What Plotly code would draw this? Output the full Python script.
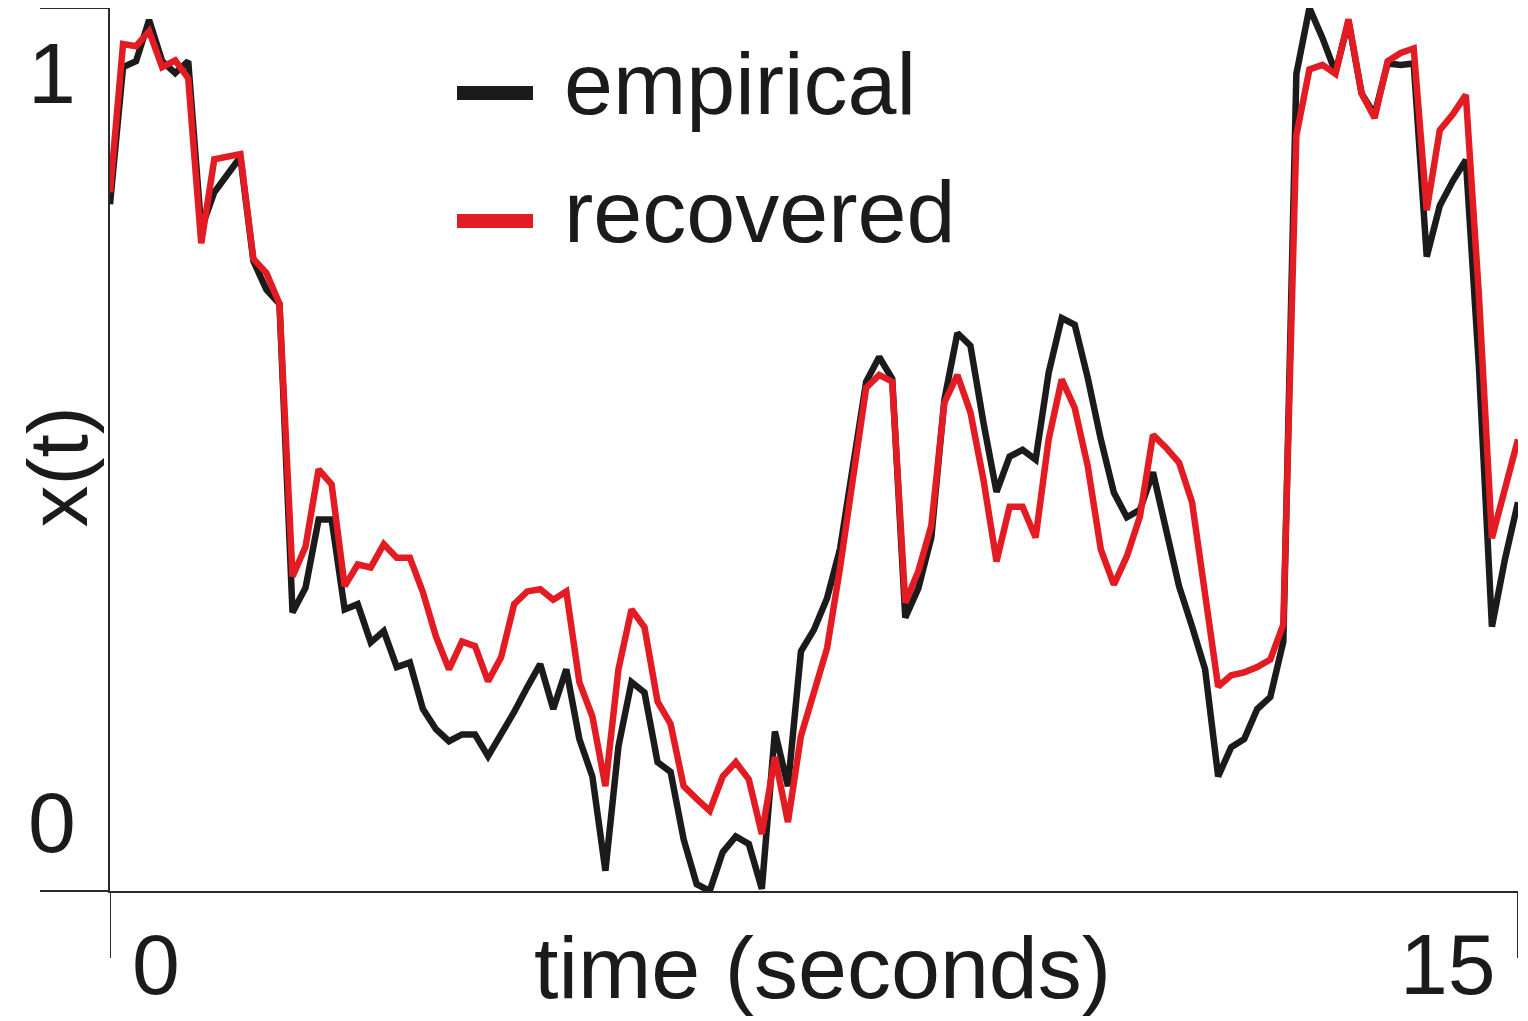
import plotly.graph_objects as go

duration = 15.0

empirical = [
    0.825, 1.008, 1.016, 1.071, 1.016, 1.000, 1.016, 0.792, 0.841, 0.864,
    0.888, 0.749, 0.711, 0.692, 0.280, 0.313, 0.404, 0.404, 0.284, 0.291,
    0.240, 0.255, 0.207, 0.213, 0.151, 0.124, 0.108, 0.117, 0.117, 0.088,
    0.117, 0.147, 0.180, 0.211, 0.151, 0.204, 0.111, 0.061, -0.065, 0.101,
    0.187, 0.173, 0.080, 0.067, -0.023, -0.083, -0.092, -0.040, -0.019, -0.029,
    -0.089, 0.121, 0.048, 0.228, 0.257, 0.299, 0.365, 0.483, 0.588, 0.621,
    0.592, 0.273, 0.312, 0.380, 0.564, 0.653, 0.636, 0.533, 0.441, 0.488,
    0.497, 0.484, 0.600, 0.673, 0.664, 0.593, 0.511, 0.440, 0.407, 0.417,
    0.467, 0.391, 0.315, 0.261, 0.204, 0.061, 0.100, 0.111, 0.151, 0.167,
    0.241, 0.999, 1.087, 1.047, 1.001, 1.069, 0.973, 0.945, 1.013, 1.011,
    1.013, 0.755, 0.823, 0.856, 0.884, 0.609, 0.261, 0.351, 0.427,
]

recovered = [
    0.841, 1.039, 1.036, 1.056, 1.008, 1.017, 0.993, 0.773, 0.885, 0.889,
    0.892, 0.752, 0.733, 0.692, 0.328, 0.368, 0.471, 0.451, 0.315, 0.344,
    0.340, 0.371, 0.353, 0.353, 0.307, 0.248, 0.204, 0.241, 0.235, 0.188,
    0.220, 0.291, 0.308, 0.311, 0.297, 0.308, 0.187, 0.141, 0.048, 0.204,
    0.284, 0.260, 0.161, 0.131, 0.048, 0.031, 0.015, 0.061, 0.080, 0.057,
    -0.016, 0.087, 0.000, 0.115, 0.171, 0.232, 0.340, 0.468, 0.580, 0.597,
    0.588, 0.293, 0.335, 0.396, 0.560, 0.597, 0.547, 0.457, 0.348, 0.421,
    0.421, 0.380, 0.511, 0.591, 0.553, 0.475, 0.364, 0.317, 0.355, 0.408,
    0.517, 0.500, 0.480, 0.427, 0.307, 0.181, 0.196, 0.200, 0.207, 0.217,
    0.264, 0.917, 1.005, 1.011, 0.999, 1.072, 0.973, 0.940, 1.016, 1.027,
    1.033, 0.817, 0.924, 0.945, 0.971, 0.704, 0.379, 0.447, 0.511,
]

time = [i * duration / (len(empirical) - 1) for i in range(len(empirical))]

y_tick_values = [0, 1]
y_tick_labels = ['0', '1']
x_tick_labels = ['0', '15']
series_names = ['empirical', 'recovered']

FONT = 'Liberation Sans, Arial, Helvetica, sans-serif'
INK = '#1b1b1b'
AXIS = '#2a2a2a'
RED = '#e31b23'
colors = [INK, RED]

fig = go.Figure()

for name, ys, col in zip(series_names, [empirical, recovered], colors):
    fig.add_trace(go.Scatter(
        x=time, y=ys, mode='lines', name=name,
        line=dict(color=col, width=6.5),
    ))

y_lo, y_hi = min(empirical), max(empirical)

# the page body adds an 8px margin, so the figure is sized to fit after it
fig.update_layout(
    width=1520, height=1013,
    margin=dict(l=102, r=10, t=0, b=130),
    plot_bgcolor='white', paper_bgcolor='white',
    font=dict(family=FONT, size=88, color=INK),
    showlegend=False,
    xaxis=dict(
        range=[0, duration], showgrid=False, zeroline=False,
        showline=True, linecolor=AXIS, linewidth=2,
        showticklabels=False, ticks='',
    ),
    yaxis=dict(
        range=[y_lo, y_hi], showgrid=False, zeroline=False,
        showline=True, linecolor=AXIS, linewidth=2,
        tickvals=y_tick_values, ticktext=y_tick_labels, ticks='',
        tickfont=dict(size=86, family=FONT, color=INK),
        ticklabelstandoff=15,
    ),
)

# range-frame style extensions of the axes
frame = dict(color=AXIS, width=2)
fig.add_shape(type='line', xref='paper', yref='y', xsizemode='pixel', xanchor=0,
              x0=-70, x1=0, y0=y_hi, y1=y_hi, line=frame)
fig.add_shape(type='line', xref='paper', yref='paper', xsizemode='pixel', xanchor=0,
              x0=-70, x1=0, y0=0, y1=0, line=frame)
fig.add_shape(type='line', xref='x', yref='paper', ysizemode='pixel', yanchor=0,
              x0=0, x1=0, y0=0, y1=-67, line=frame)
fig.add_shape(type='line', xref='x', yref='paper', ysizemode='pixel', yanchor=0,
              x0=duration, x1=duration, y0=0, y1=-67, line=frame)

# legend: short thick bars with the series names beside them
for k, (name, col) in enumerate(zip(series_names, colors)):
    dy = -85 - 128 * k
    fig.add_shape(type='line', xref='paper', yref='paper',
                  xsizemode='pixel', xanchor=0, ysizemode='pixel', yanchor=1,
                  x0=347, x1=423, y0=dy, y1=dy, line=dict(color=col, width=14))
    fig.add_annotation(x=0, y=1, xref='paper', yref='paper', text=name,
                       showarrow=False, xanchor='left', yanchor='middle',
                       xshift=452, yshift=dy + 10, font=dict(size=88))

# x tick labels sit just inside the ends of the time axis
fig.add_annotation(x=0, y=0, xref='x', yref='paper', text=x_tick_labels[0],
                   showarrow=False, xanchor='left', yanchor='middle',
                   xshift=20, yshift=-73, font=dict(size=86))
fig.add_annotation(x=duration, y=0, xref='x', yref='paper', text=x_tick_labels[1],
                   showarrow=False, xanchor='right', yanchor='middle',
                   xshift=-20, yshift=-73, font=dict(size=86))

# axis titles
fig.add_annotation(x=0.5, y=0, xref='paper', yref='paper', text='time (seconds)',
                   showarrow=False, xanchor='center', yanchor='middle',
                   xshift=8, yshift=-76, font=dict(size=88))
fig.add_annotation(x=0, y=0.5, xref='paper', yref='paper', text='x(t)',
                   showarrow=False, xanchor='center', yanchor='middle', textangle=-90,
                   xshift=-53, yshift=-18, font=dict(size=84))

fig.write_html('out.html')
